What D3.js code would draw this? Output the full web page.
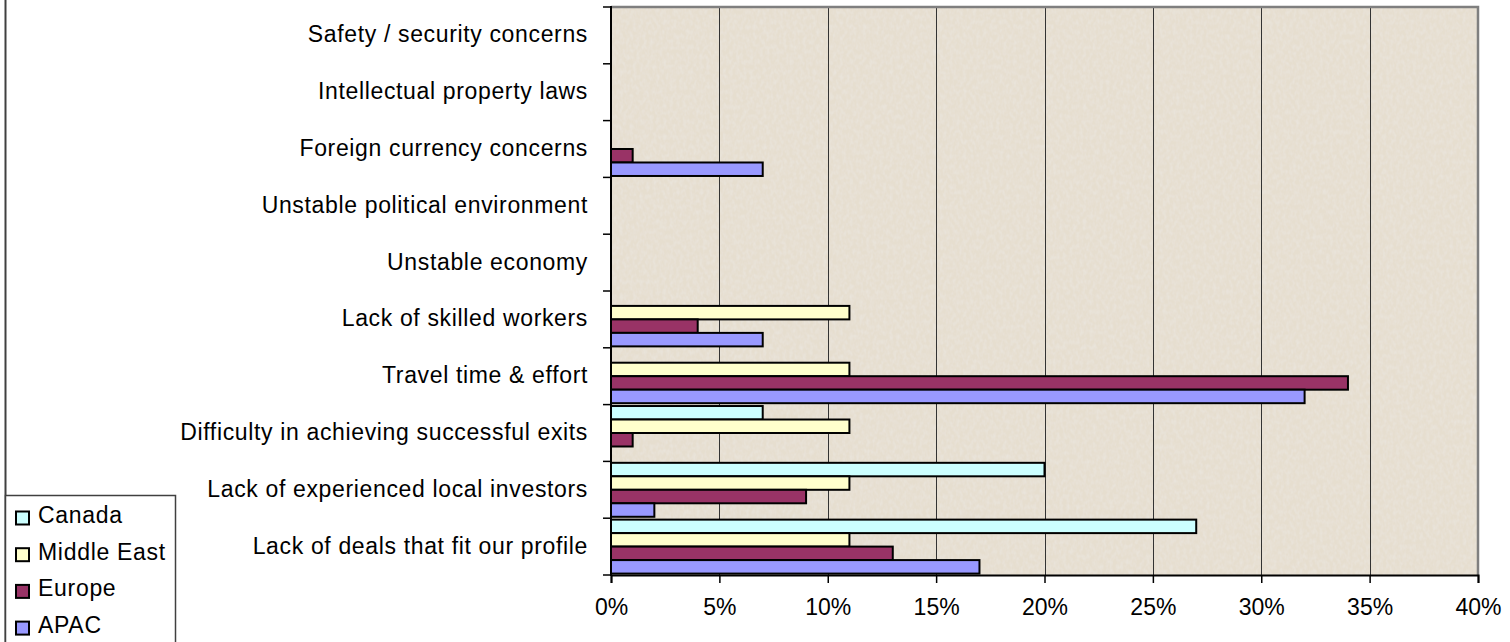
<!DOCTYPE html>
<html>
<head>
<meta charset="utf-8">
<script src="https://cdn.jsdelivr.net/npm/d3@7.9.0/dist/d3.min.js"></script>
<style>
  html, body { margin: 0; padding: 0; background: #fff; }
  svg { display: block; font-family: "Liberation Sans", Arial, sans-serif; }
</style>
</head>
<body>
<svg id="chart"></svg>
<script>
const width = 1510;
const height = 642;

// categories, top to bottom
const categories = [
  "Safety / security concerns",
  "Intellectual property laws",
  "Foreign currency concerns",
  "Unstable political environment",
  "Unstable economy",
  "Lack of skilled workers",
  "Travel time & effort",
  "Difficulty in achieving successful exits",
  "Lack of experienced local investors",
  "Lack of deals that fit our profile"
];

const seriesNames = ["Canada", "Middle East", "Europe", "APAC"];
const seriesColors = ["#CCFFFF", "#FFFFCC", "#993366", "#9999FF"];

// percent values, same order as categories
const canada     = [0, 0, 0, 0, 0, 0, 0, 7, 20, 27];
const middleEast = [0, 0, 0, 0, 0, 11, 11, 11, 11, 11];
const europe     = [0, 0, 1, 0, 0, 4, 34, 1, 9, 13];
const apac       = [0, 0, 7, 0, 0, 7, 32, 0, 2, 17];

const xTicks = [0, 5, 10, 15, 20, 25, 30, 35, 40];

const seriesValues = [canada, middleEast, europe, apac];

const plot = { left: 611, right: 1478, top: 7, bottom: 575 };

const svg = d3.select("#chart")
    .attr("width", width)
    .attr("height", height);

// paper-like texture for the plot area
const defs = svg.append("defs");
const filter = defs.append("filter").attr("id", "paper")
    .attr("x", 0).attr("y", 0).attr("width", 1).attr("height", 1);
filter.append("feTurbulence")
    .attr("type", "fractalNoise")
    .attr("baseFrequency", "0.3 0.2")
    .attr("numOctaves", 2)
    .attr("seed", 3)
    .attr("result", "noise");
filter.append("feColorMatrix")
    .attr("in", "noise")
    .attr("type", "matrix")
    .attr("values", "0 0 0 0 0.82  0 0 0 0 0.78  0 0 0 0 0.72  0 0 0 -1.6 1.05")
    .attr("result", "spots");
filter.append("feComposite").attr("in", "spots").attr("in2", "SourceGraphic").attr("operator", "atop");

let x = d3.scaleLinear().domain([0, 40]).range([plot.left, plot.right]);
let y = d3.scaleBand().domain(categories).range([plot.top, plot.bottom])
    .paddingInner(0.05).paddingOuter(0.025);
let yInner = d3.scaleBand().domain(seriesNames).range([0, y.bandwidth()]);

// outer chart border (left edge)
svg.append("line")
    .attr("x1", 5.5).attr("x2", 5.5).attr("y1", 0).attr("y2", height)
    .attr("stroke", "#404040").attr("stroke-width", 2);

// plot background
svg.append("rect")
    .attr("x", plot.left).attr("y", plot.top)
    .attr("width", plot.right - plot.left).attr("height", plot.bottom - plot.top)
    .attr("fill", "#E6DECF")
    .attr("filter", "url(#paper)");

// vertical gridlines
svg.append("g")
    .selectAll("line")
    .data(xTicks.slice(1, -1))
    .join("line")
    .attr("x1", d => Math.round(x(d)) + 0.5).attr("x2", d => Math.round(x(d)) + 0.5)
    .attr("y1", plot.top).attr("y2", plot.bottom)
    .attr("stroke", "#333").attr("stroke-width", 1);

// top + right plot border
svg.append("path")
    .attr("d", `M${plot.left},${plot.top} H${plot.right} V${plot.bottom}`)
    .attr("fill", "none").attr("stroke", "#7f7f7f").attr("stroke-width", 2.5);

// bars
const bars = [];
categories.forEach((cat, ci) => {
    seriesNames.forEach((s, si) => {
        const v = seriesValues[si][ci];
        if (v > 0) bars.push({ cat, s, v, color: seriesColors[si] });
    });
});

svg.append("g")
    .selectAll("rect")
    .data(bars)
    .join("rect")
    .attr("x", x(0))
    .attr("y", d => y(d.cat) + yInner(d.s))
    .attr("width", d => x(d.v) - x(0))
    .attr("height", yInner.bandwidth())
    .attr("fill", d => d.color)
    .attr("stroke", "#000")
    .attr("stroke-width", 2);

// x axis
const xAxis = svg.append("g")
    .attr("transform", `translate(0,${plot.bottom})`)
    .call(d3.axisBottom(x).tickValues(xTicks).tickFormat(d => d + "%").tickSize(8).tickPadding(16));
xAxis.select(".domain").attr("stroke", "#000").attr("stroke-width", 2);
xAxis.selectAll(".tick line").attr("stroke", "#000").attr("stroke-width", 1.5);
xAxis.selectAll("text").attr("font-size", 23).attr("fill", "#000")
    .attr("font-family", "'Liberation Sans', Arial, sans-serif");

// y axis: line and boundary ticks
const yBounds = categories.map(c => y(c) - y.step() * y.paddingInner() / 2).concat([plot.bottom]);
svg.append("line")
    .attr("x1", plot.left).attr("x2", plot.left)
    .attr("y1", plot.top - 1).attr("y2", plot.bottom + 1)
    .attr("stroke", "#000").attr("stroke-width", 2);
svg.append("g")
    .selectAll("line")
    .data(yBounds)
    .join("line")
    .attr("x1", plot.left - 8).attr("x2", plot.left)
    .attr("y1", d => Math.max(plot.top, d)).attr("y2", d => Math.max(plot.top, d))
    .attr("stroke", "#000").attr("stroke-width", 1.5);

// category labels
svg.append("g")
    .selectAll("text")
    .data(categories)
    .join("text")
    .attr("x", 588)
    .attr("y", d => y(d) + y.bandwidth() / 2)
    .attr("dy", "0.3em")
    .attr("text-anchor", "end")
    .attr("font-size", 23)
    .attr("letter-spacing", 0.65)
    .attr("fill", "#000")
    .text(d => d);

// legend
const legend = svg.append("g");
legend.append("rect")
    .attr("x", 5.5).attr("y", 495.5).attr("width", 170).attr("height", 160)
    .attr("fill", "#fff").attr("stroke", "#404040").attr("stroke-width", 1.5);

seriesNames.forEach((s, i) => {
    const top = 511.5 + i * 36.7;
    legend.append("rect")
        .attr("x", 16).attr("y", top).attr("width", 13).attr("height", 13)
        .attr("fill", seriesColors[i]).attr("stroke", "#000").attr("stroke-width", 2);
    legend.append("text")
        .attr("x", 38).attr("y", top + 11.5)
        .attr("font-size", 23).attr("letter-spacing", 0.7).attr("fill", "#000")
        .text(s);
});
</script>
</body>
</html>
